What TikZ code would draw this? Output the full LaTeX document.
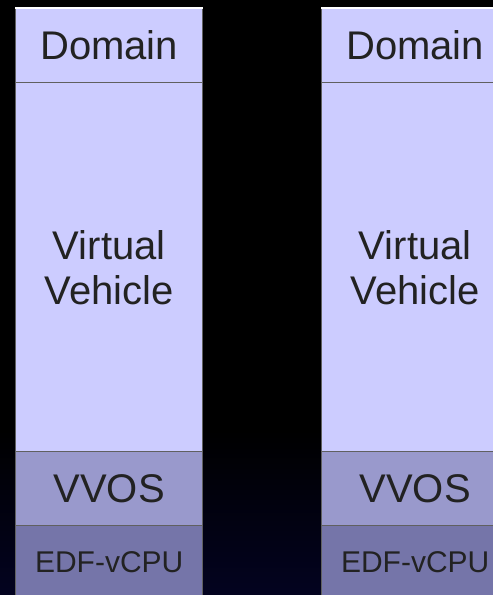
\documentclass[tikz,border=0pt]{standalone}
\usepackage{fontspec}
\setmainfont{Liberation Sans}
\definecolor{cellA}{HTML}{CCCCFF}
\definecolor{cellB}{HTML}{9999CC}
\definecolor{cellC}{HTML}{7575A9}
\definecolor{txt}{HTML}{222222}
\definecolor{edge}{HTML}{606060}
\definecolor{navy}{RGB}{3,3,32}
\begin{document}
\begin{tikzpicture}[x=1pt,y=-1pt,
  cell/.style={rectangle, anchor=north west, inner sep=0pt, minimum width=187pt,
    draw=edge, line width=1.4pt, text=txt, align=center},
  big/.style={font=\fontsize{40}{45}\selectfont},
  small/.style={font=\fontsize{30}{34}\selectfont}]
\useasboundingbox (0,0) rectangle (493,595);
\clip (0,0) rectangle (493,595);
\fill[black] (0,0) rectangle (493,595);
\shade[top color=black, bottom color=navy] (0,430) rectangle (493,595);
\foreach \n/\x in {1/15, 2/321}{
  \node[cell, big, fill=cellA, minimum height=74pt] (d\n) at (\x,8) {Domain};
  \node[cell, big, fill=cellA, minimum height=369pt] (v\n) at (\x,82) {Virtual\\Vehicle};
  \node[cell, big, fill=cellB, minimum height=74pt] (o\n) at (\x,451) {VVOS};
  \node[cell, small, fill=cellC, minimum height=72pt] (e\n) at (\x,525) {EDF-vCPU};
  \draw[white, line width=2pt] (d\n.north west) -- (d\n.north east);
}
\end{tikzpicture}
\end{document}
